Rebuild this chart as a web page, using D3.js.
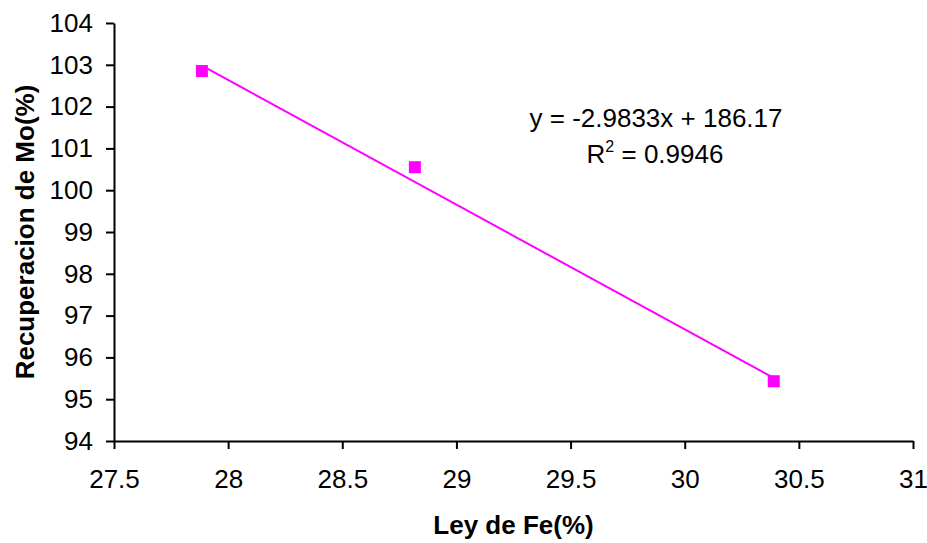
<!DOCTYPE html>
<html>
<head>
<meta charset="utf-8">
<script src="https://cdn.jsdelivr.net/npm/d3@7"></script>
<style>
  body { margin: 0; background: #fff; }
  text { font-family: Arial, "Liberation Sans", sans-serif; }
</style>
</head>
<body>
<div id="chart"></div>
<script>
// data
const leyFe = [27.885, 28.818, 30.39];
const recupMo = [102.85, 100.55, 95.43];
const xTicks = [27.5, 28, 28.5, 29, 29.5, 30, 30.5, 31];
const yTicks = [94, 95, 96, 97, 98, 99, 100, 101, 102, 103, 104];
const slope = -2.9833;
const intercept = 186.17;
const r2 = 0.9946;

const width = 927;
const height = 543;
const margin = { left: 114, right: 14, top: 23, bottom: 102 };
const fs = 26;

const svg = d3.select("#chart")
.append("svg")
  .attr("width", width)
  .attr("height", height);

const x = d3.scaleLinear().domain([27.5, 31]).range([margin.left, width - margin.right]);
const y = d3.scaleLinear().domain([94, 104]).range([height - margin.bottom, margin.top]);

// axes
const xAxis = svg.append("g")
  .attr("transform", `translate(0,${y(94)})`)
  .call(d3.axisBottom(x).tickValues(xTicks).tickSize(8).tickSizeOuter(0).tickPadding(21).tickFormat(d => d));
const yAxis = svg.append("g")
  .attr("transform", `translate(${x(27.5)},0)`)
  .call(d3.axisLeft(y).tickValues(yTicks).tickSize(8).tickSizeOuter(0).tickPadding(13).tickFormat(d => d));

[xAxis, yAxis].forEach(g => {
  g.select(".domain").attr("stroke", "#000").attr("stroke-width", 2);
  g.selectAll(".tick line").attr("stroke", "#000").attr("stroke-width", 2);
  g.selectAll(".tick text").attr("font-size", fs).attr("fill", "#000")
    .attr("font-family", "Arial, 'Liberation Sans', sans-serif");
});

// trend line across data range
const xMin = d3.min(leyFe), xMax = d3.max(leyFe);
svg.append("line")
  .attr("x1", x(xMin)).attr("y1", y(slope * xMin + intercept))
  .attr("x2", x(xMax)).attr("y2", y(slope * xMax + intercept))
  .attr("stroke", "#ff00ff")
  .attr("stroke-width", 2);

// markers
const m = 12;
svg.selectAll("rect.pt")
.data(leyFe)
.enter()
.append("rect")
  .attr("class", "pt")
  .attr("x", (d) => x(d) - m / 2)
  .attr("y", (d, i) => y(recupMo[i]) - m / 2)
  .attr("width", m)
  .attr("height", m)
  .attr("fill", "#ff00ff");

// equation label
svg.append("text")
  .attr("x", 656)
  .attr("y", 127)
  .attr("text-anchor", "middle")
  .attr("font-size", fs)
  .text(`y = ${slope}x + ${intercept}`);

const r2Text = svg.append("text")
  .attr("x", 655)
  .attr("y", 163)
  .attr("text-anchor", "middle")
  .attr("font-size", fs);
r2Text.append("tspan").text("R");
r2Text.append("tspan").attr("font-size", 16).attr("dy", -11).text("2");
r2Text.append("tspan").attr("dy", 11).text(` = ${r2}`);

// axis titles
svg.append("text")
  .attr("x", (x(27.5) + x(31)) / 2)
  .attr("y", 534)
  .attr("text-anchor", "middle")
  .attr("font-size", fs)
  .attr("font-weight", "bold")
  .text("Ley de Fe(%)");

svg.append("text")
  .attr("transform", `translate(34,${(y(94) + y(104)) / 2}) rotate(-90)`)
  .attr("text-anchor", "middle")
  .attr("font-size", fs)
  .attr("font-weight", "bold")
  .text("Recuperacion de Mo(%)");
</script>
</body>
</html>
